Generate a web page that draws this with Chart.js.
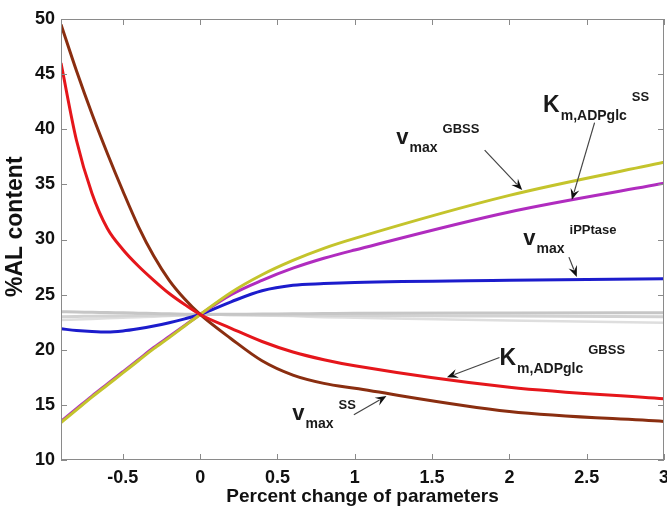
<!DOCTYPE html>
<html>
<head>
<meta charset="utf-8">
<script src="https://cdn.jsdelivr.net/npm/chart.js@4"></script>
<style>
  html, body { margin: 0; padding: 0; background: #fff; }
  canvas { display: block; }
</style>
</head>
<body>
<canvas id="alChart" width="667" height="510"></canvas>
<script>
// percent change of each parameter
const xValues = [-0.9, -0.8, -0.7, -0.6, -0.5, -0.4, -0.3, -0.2, -0.1, 0, 0.2, 0.4, 0.6, 0.8, 1, 2, 3];

// %AL content for each perturbed parameter
const vmaxSS   = [49.5, 45.3, 41.4, 37.8, 34.4, 31.2, 28.5, 26.3, 24.6, 23.2, 21.0, 19.0, 17.7, 16.95, 16.5, 14.4, 13.5];
const kmGBSS   = [46.0, 39.0, 34.2, 31.0, 29.1, 27.6, 26.3, 25.1, 24.1, 23.2, 21.95, 20.75, 19.8, 19.1, 18.55, 16.6, 15.55];
const vmaxGBSS = [13.4, 14.55, 15.7, 16.8, 17.9, 19.0, 20.1, 21.1, 22.15, 23.2, 25.2, 26.8, 28.1, 29.2, 30.1, 34.0, 37.0];
const kmSS     = [13.5, 14.65, 15.8, 16.9, 18.0, 19.1, 20.2, 21.2, 22.2, 23.2, 25.0, 26.3, 27.4, 28.3, 29.05, 32.5, 35.1];
const vmaxIPP  = [21.9, 21.75, 21.65, 21.6, 21.7, 21.9, 22.15, 22.45, 22.8, 23.2, 24.35, 25.35, 25.85, 26.0, 26.1, 26.3, 26.45];

// the other (insensitive) parameters, all close to the reference value
const grayA = [23.45, 23.42, 23.4, 23.37, 23.35, 23.32, 23.29, 23.26, 23.23, 23.2, 23.22, 23.24, 23.26, 23.28, 23.3, 23.33, 23.35];
const grayB = [23.0, 23.02, 23.04, 23.06, 23.08, 23.1, 23.12, 23.14, 23.17, 23.2, 23.18, 23.16, 23.14, 23.12, 23.1, 23.05, 23.0];
const grayC = [22.7, 22.75, 22.8, 22.85, 22.9, 22.95, 23.0, 23.07, 23.13, 23.2, 23.15, 23.1, 23.05, 22.95, 22.9, 22.65, 22.45];

const xTicks = [-0.5, 0, 0.5, 1, 1.5, 2, 2.5, 3];
const yTicks = [10, 15, 20, 25, 30, 35, 40, 45, 50];

// text labels: main letter, subscript, superscript (baseline position in data units)
const labels = [
  { x: 1.269, y: 38.7, main: "v", sub: "max", sup: "GBSS" },
  { x: 2.218, y: 41.6, main: "K", sub: "m,ADPglc", sup: "SS" },
  { x: 2.09,  y: 29.5, main: "v", sub: "max", sup: "iPPtase" },
  { x: 1.936, y: 18.6, main: "K", sub: "m,ADPglc", sup: "GBSS" },
  { x: 0.596, y: 13.6, main: "v", sub: "max", sup: "SS" }
];

// arrows: [fromX, fromY, toX, toY]
const arrows = [
  [1.84, 38.1, 2.083, 34.5],
  [2.551, 40.6, 2.404, 33.6],
  [2.385, 28.4, 2.436, 26.6],
  [1.936, 19.3, 1.596, 17.5],
  [0.994, 14.1, 1.205, 15.8]
];

const FONT = "'Liberation Sans', Arial, sans-serif";

function pts(ys) {
  return xValues.map((x, i) => ({ x: x, y: ys[i] }));
}

function line(label, ys, color, width) {
  return {
    label: label,
    data: pts(ys),
    borderColor: color,
    borderWidth: width,
    pointRadius: 0,
    fill: false,
    cubicInterpolationMode: "monotone"
  };
}

const frame = {
  id: "frame",
  afterDraw(chart) {
    const ctx = chart.ctx;
    const a = chart.chartArea;
    const xs = chart.scales.x, ys = chart.scales.y;
    ctx.save();
    ctx.strokeStyle = "#8a8a8a";
    ctx.lineWidth = 1;
    ctx.strokeRect(a.left + 0.5, a.top + 0.5, a.right - a.left - 1, a.bottom - a.top - 1);
    ctx.beginPath();
    xTicks.forEach(v => {
      const px = Math.round(xs.getPixelForValue(v)) + 0.5;
      ctx.moveTo(px, a.bottom); ctx.lineTo(px, a.bottom - 6);
      ctx.moveTo(px, a.top); ctx.lineTo(px, a.top + 6);
    });
    yTicks.forEach(v => {
      const py = Math.round(ys.getPixelForValue(v)) + 0.5;
      ctx.moveTo(a.left, py); ctx.lineTo(a.left + 6, py);
      ctx.moveTo(a.right, py); ctx.lineTo(a.right - 6, py);
    });
    ctx.stroke();
    ctx.restore();
  }
};

const notes = {
  id: "notes",
  afterDatasetsDraw(chart) {
    const ctx = chart.ctx;
    const xs = chart.scales.x, ys = chart.scales.y;
    ctx.save();

    // arrows
    arrows.forEach(([x1, y1, x2, y2]) => {
      const ax = xs.getPixelForValue(x1), ay = ys.getPixelForValue(y1);
      const bx = xs.getPixelForValue(x2), by = ys.getPixelForValue(y2);
      const ang = Math.atan2(by - ay, bx - ax);
      ctx.strokeStyle = "#444";
      ctx.lineWidth = 1.2;
      ctx.beginPath();
      ctx.moveTo(ax, ay);
      ctx.lineTo(bx - 8 * Math.cos(ang), by - 8 * Math.sin(ang));
      ctx.stroke();
      ctx.fillStyle = "#111";
      ctx.beginPath();
      ctx.moveTo(bx, by);
      ctx.lineTo(bx - 11 * Math.cos(ang) + 4.5 * Math.sin(ang), by - 11 * Math.sin(ang) - 4.5 * Math.cos(ang));
      ctx.lineTo(bx - 7 * Math.cos(ang), by - 7 * Math.sin(ang));
      ctx.lineTo(bx - 11 * Math.cos(ang) - 4.5 * Math.sin(ang), by - 11 * Math.sin(ang) + 4.5 * Math.cos(ang));
      ctx.closePath();
      ctx.fill();
    });

    // labels
    ctx.fillStyle = "#1a1a1a";
    ctx.textBaseline = "alphabetic";
    ctx.textAlign = "left";
    labels.forEach(l => {
      const px = xs.getPixelForValue(l.x), py = ys.getPixelForValue(l.y);
      ctx.font = "bold " + (l.main === "K" ? 23 : 22) + "px " + FONT;
      ctx.fillText(l.main, px, py);
      const mw = ctx.measureText(l.main).width;
      ctx.font = "bold 14px " + FONT;
      ctx.fillText(l.sub, px + mw + 1, py + 8);
      const sw = ctx.measureText(l.sub).width;
      ctx.font = "bold 13px " + FONT;
      ctx.fillText(l.sup, px + mw + sw + 6, py - 11);
    });
    ctx.restore();
  }
};

new Chart(document.getElementById("alChart"), {
  type: "line",
  data: {
    datasets: [
      line("Km,ADPglc GBSS", kmGBSS, "#e5161b", 3),
      line("vmax SS", vmaxSS, "#8a2e10", 3),
      line("vmax GBSS", vmaxGBSS, "#c4c42c", 3),
      line("Km,ADPglc SS", kmSS, "#b02cbf", 3),
      line("vmax iPPtase", vmaxIPP, "#1c1ccc", 3),
      line("other 1", grayA, "#c6c6c6", 3),
      line("other 2", grayB, "#d2d2d2", 3),
      line("other 3", grayC, "#dedede", 2.5)
    ]
  },
  options: {
    responsive: false,
    devicePixelRatio: 1,
    animation: false,
    layout: { padding: { top: 19, right: 3, left: 0, bottom: 0 } },
    plugins: { legend: { display: false }, tooltip: { enabled: false } },
    scales: {
      x: {
        type: "linear",
        min: -0.9,
        max: 3,
        grid: { display: false, drawTicks: false },
        border: { display: false },
        afterBuildTicks: s => { s.ticks = xTicks.map(v => ({ value: v })); },
        afterFit: s => { s.height = 50; s.paddingLeft = 0; s.paddingRight = 0; },
        ticks: {
          padding: 7,
          color: "#111",
          font: { family: FONT, size: 18, weight: "bold" },
          maxRotation: 0,
          autoSkip: false,
          callback: v => String(v)
        },
        title: {
          display: true,
          text: "Percent change of parameters",
          color: "#111",
          font: { family: FONT, size: 19, weight: "bold" },
          padding: { top: 0, bottom: 2 }
        }
      },
      y: {
        type: "linear",
        min: 10,
        max: 50,
        grid: { display: false, drawTicks: false },
        border: { display: false },
        afterBuildTicks: s => { s.ticks = yTicks.map(v => ({ value: v })); },
        afterFit: s => { s.width = 61; s.paddingTop = 0; s.paddingBottom = 0; },
        ticks: {
          padding: 6,
          color: "#111",
          font: { family: FONT, size: 18, weight: "bold" },
          callback: v => String(v)
        },
        title: {
          display: true,
          text: "    %AL content",
          color: "#111",
          font: { family: FONT, size: 23, weight: "bold" },
          padding: { top: 2, bottom: 0 }
        }
      }
    }
  },
  plugins: [frame, notes]
});
</script>
</body>
</html>
